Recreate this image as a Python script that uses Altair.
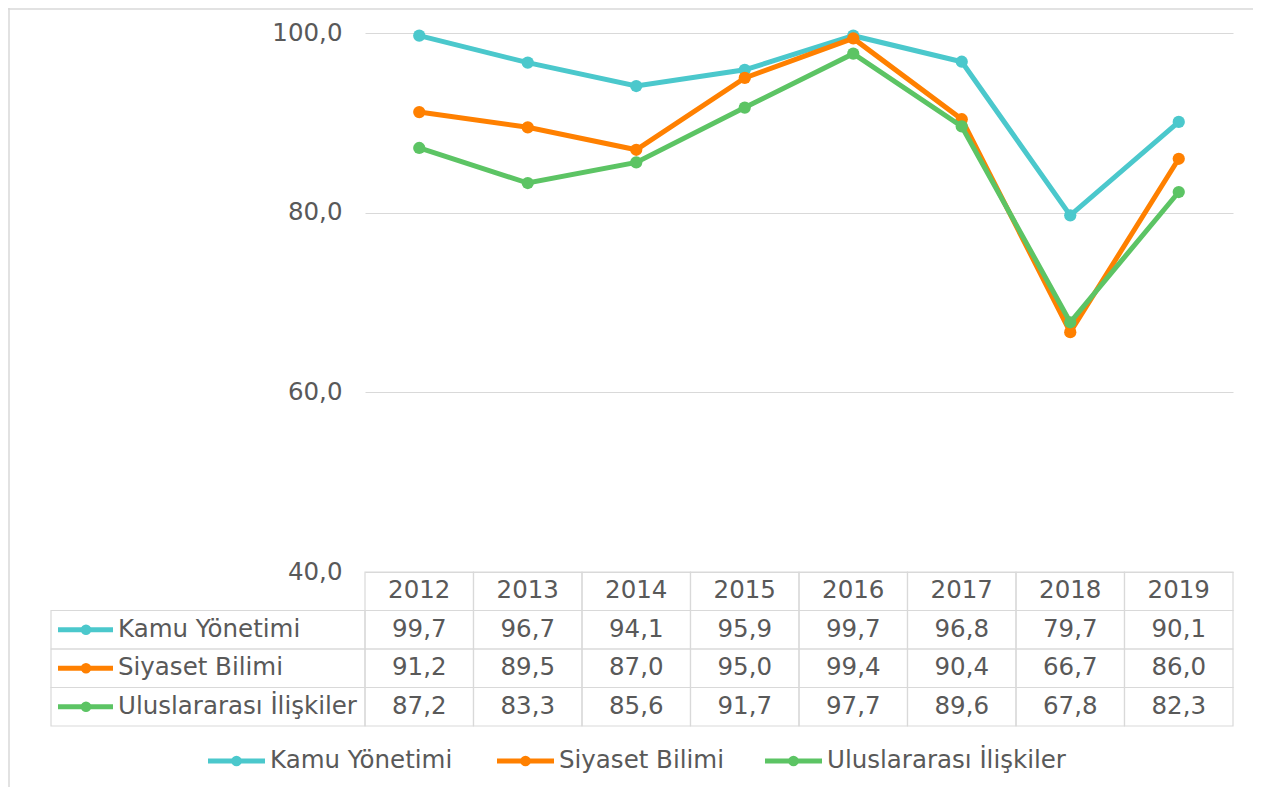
import altair as alt
import pandas as pd

# ---- data ----
YEARS = ["2012", "2013", "2014", "2015", "2016", "2017", "2018", "2019"]
SERIES = ["Kamu Yönetimi", "Siyaset Bilimi", "Uluslararası İlişkiler"]
KAMU = [99.7, 96.7, 94.1, 95.9, 99.7, 96.8, 79.7, 90.1]
SIYASET = [91.2, 89.5, 87.0, 95.0, 99.4, 90.4, 66.7, 86.0]
ULUS = [87.2, 83.3, 85.6, 91.7, 97.7, 89.6, 67.8, 82.3]
Y_TICKS = [40, 60, 80, 100]

# ---- style / layout ----
COLORS = ["#4BC8CC", "#FF8000", "#5CC464"]
TEXT = "#595959"
GRID = "#d9d9d9"
FONT = "DejaVu Sans"
FS = 24.5
W, H = 868, 539
PAD = {"left": 357, "top": 25, "right": 20, "bottom": 215}
LEGEND_X = [-157, 132, 400]
LEGEND_KEY = 57
LEGEND_Y = 728

rows = []
for s, vals in zip(SERIES, [KAMU, SIYASET, ULUS]):
    for y, v in zip(YEARS, vals):
        rows.append({"year": y, "series": s, "row": s, "value": v})
df = pd.DataFrame(rows)
hdr = pd.DataFrame({"year": YEARS, "row": "hdr"})
cells = pd.concat([hdr, df[["year", "row"]]], ignore_index=True)
labels = pd.DataFrame({"row": SERIES})

xs = alt.Scale(type="band", domain=YEARS, paddingInner=0, paddingOuter=0)
X = alt.X("year:O", scale=xs, axis=None)
ys = alt.Scale(domain=[40, 100], zero=False, nice=False)
yaxis = alt.Axis(values=Y_TICKS, labelExpr="replace(format(datum.value, '.1f'), '.', ',')",
                 grid=True, gridColor=GRID, gridWidth=1, domain=False, ticks=False,
                 labelFont=FONT, labelFontSize=FS, labelColor=TEXT, labelPadding=23,
                 title=None, orient="left")
Y = alt.Y("value:Q", scale=ys, axis=yaxis)
color_scale = alt.Scale(domain=SERIES, range=COLORS)

# ---- lines ----
line_layers = []
for s, c in zip(SERIES, COLORS):
    base = alt.Chart(df).transform_filter(alt.datum.series == s)
    line_layers.append(base.mark_line(color=c, strokeWidth=5).encode(x=X, y=Y))
    line_layers.append(base.mark_circle(color=c, size=150, opacity=1).encode(x=X, y=Y))
main = alt.layer(*line_layers)

# ---- data table ----
ty = alt.Scale(type="band", domain=["hdr"] + SERIES, range=[H, H + 154],
               paddingInner=0, paddingOuter=0)
TY = alt.Y("row:N", scale=ty, axis=None)

cell_rects = alt.Chart(cells).mark_rect(fill="white", fillOpacity=0, stroke=GRID,
                                        strokeWidth=1.2).encode(x=X, y=TY)
year_text = alt.Chart(hdr).mark_text(font=FONT, fontSize=FS, color=TEXT).encode(
    x=X, y=TY, text="year:N")
val_text = alt.Chart(df).transform_calculate(
    label="replace(format(datum.value, '.1f'), '.', ',')"
).mark_text(font=FONT, fontSize=FS, color=TEXT).encode(x=X, y=TY, text="label:N")
lab_rects = alt.Chart(labels).mark_rect(fill="white", fillOpacity=0, stroke=GRID,
                                        strokeWidth=1.2).encode(
    x=alt.value(-314), x2=alt.value(0), y=TY)
lab_text = alt.Chart(labels).mark_text(font=FONT, fontSize=FS, color=TEXT, align="left").encode(
    x=alt.value(-247), y=TY, text="row:N")
lab_key = alt.Chart(labels).mark_rule(strokeWidth=5).encode(
    x=alt.value(-307), x2=alt.value(-252), y=TY,
    color=alt.Color("row:N", scale=color_scale, legend=None))
lab_dot = alt.Chart(labels).mark_circle(size=110, opacity=1).encode(
    x=alt.value(-279), y=TY, color=alt.Color("row:N", scale=color_scale, legend=None))
table = alt.layer(cell_rects, lab_rects, year_text, val_text, lab_text, lab_key, lab_dot)

# ---- bottom legend ----
legend_layers = []
for s, c, lx in zip(SERIES, COLORS, LEGEND_X):
    ld = alt.Chart(pd.DataFrame({"series": [s]}))
    legend_layers.append(ld.mark_rule(color=c, strokeWidth=5).encode(
        x=alt.value(lx), x2=alt.value(lx + LEGEND_KEY), y=alt.value(LEGEND_Y)))
    legend_layers.append(ld.mark_circle(color=c, size=110, opacity=1).encode(
        x=alt.value(lx + LEGEND_KEY / 2), y=alt.value(LEGEND_Y)))
    legend_layers.append(ld.mark_text(font=FONT, fontSize=FS, color=TEXT, align="left").encode(
        x=alt.value(lx + LEGEND_KEY + 5), y=alt.value(LEGEND_Y), text="series:N"))

# ---- outer frame (top and left edges) ----
fd = alt.Chart(pd.DataFrame({"k": [0]}))
frame_top = fd.mark_rule(color=GRID, strokeWidth=1.5).encode(
    x=alt.value(-PAD["left"]), x2=alt.value(W + PAD["right"]), y=alt.value(-PAD["top"] + 1))
frame_left = fd.mark_rule(color=GRID, strokeWidth=1.5).encode(
    x=alt.value(-PAD["left"] + 1), y=alt.value(-PAD["top"]), y2=alt.value(H + PAD["bottom"]))

chart = alt.layer(table, main, *legend_layers, frame_top, frame_left).resolve_scale(
    y="independent"
).properties(
    width=W, height=H, padding=PAD, autosize=alt.AutoSizeParams(type="none")
).configure_view(stroke=None)

chart.save("out.html", embed_options={"renderer": "svg", "actions": False})
